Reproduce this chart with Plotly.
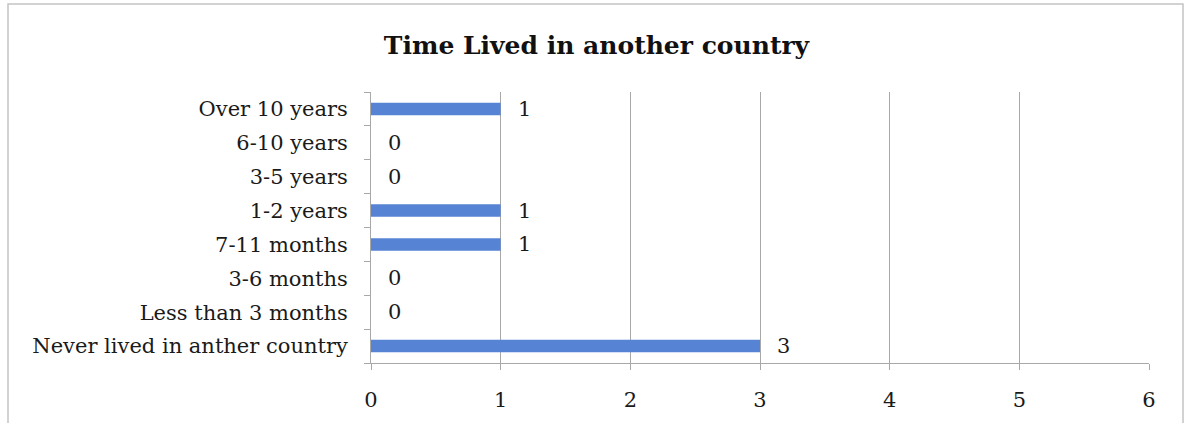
import plotly.graph_objects as go

categories = ["Never lived in anther country", "Less than 3 months", "3-6 months",
              "7-11 months", "1-2 years", "3-5 years", "6-10 years", "Over 10 years"]
values = [3, 0, 0, 1, 1, 0, 0, 1]
x_ticks = [0, 1, 2, 3, 4, 5, 6]
title_text = "Time Lived in another country"

FONT = "DejaVu Serif"
FS = 21
W, H = 1189, 423
L, R, T, B = 371, 40, 92, 60
pw, ph = W - L - R, H - T - B

fig = go.Figure()
fig.add_trace(go.Bar(
    x=values, y=categories, orientation="h",
    marker=dict(color="#5683D4", line=dict(width=0)),
    hoverinfo="skip",
))

for v, c in zip(values, categories):
    fig.add_annotation(x=v, y=c, text=str(v), showarrow=False,
                       xanchor="left", xshift=15,
                       font=dict(family=FONT, size=FS, color="#1a1a1a"))

def px_x(p):
    return (p - L) / pw

def px_y(p):
    return (H - B - p) / ph

fig.add_shape(type="rect", xref="paper", yref="paper",
              x0=px_x(8), x1=px_x(1183), y0=px_y(440), y1=px_y(4),
              line=dict(color="#c4c4c4", width=1.5), layer="below")

fig.update_layout(
    width=W, height=H,
    margin=dict(l=L, r=R, t=T, b=B),
    paper_bgcolor="white", plot_bgcolor="white",
    showlegend=False,
    bargap=0.63,
    title=dict(text="<b>" + title_text + "</b>", x=(385 + 808) / 2 / W, xanchor="center",
               y=1 - 45 / H, yanchor="middle",
               font=dict(family=FONT, size=25, color="#111111")),
    font=dict(family=FONT, size=FS, color="#1a1a1a"),
)

fig.update_xaxes(
    range=[0, 6], tickvals=x_ticks, ticktext=[str(t) for t in x_ticks],
    showgrid=True, gridcolor="#a8a8a8", gridwidth=1,
    showline=True, linecolor="#a8a8a8", linewidth=1,
    ticks="outside", ticklen=6, tickcolor="#a8a8a8",
    zeroline=False, ticklabelstandoff=12,
    tickfont=dict(family=FONT, size=FS, color="#1a1a1a"),
)
fig.update_yaxes(
    categoryorder="array", categoryarray=categories,
    showgrid=False, showline=True, linecolor="#a8a8a8", linewidth=1,
    ticks="outside", ticklen=6, tickcolor="#a8a8a8", tickson="boundaries",
    ticklabelstandoff=18,
    tickfont=dict(family=FONT, size=FS, color="#1a1a1a"),
)

fig.write_html("out.html")
